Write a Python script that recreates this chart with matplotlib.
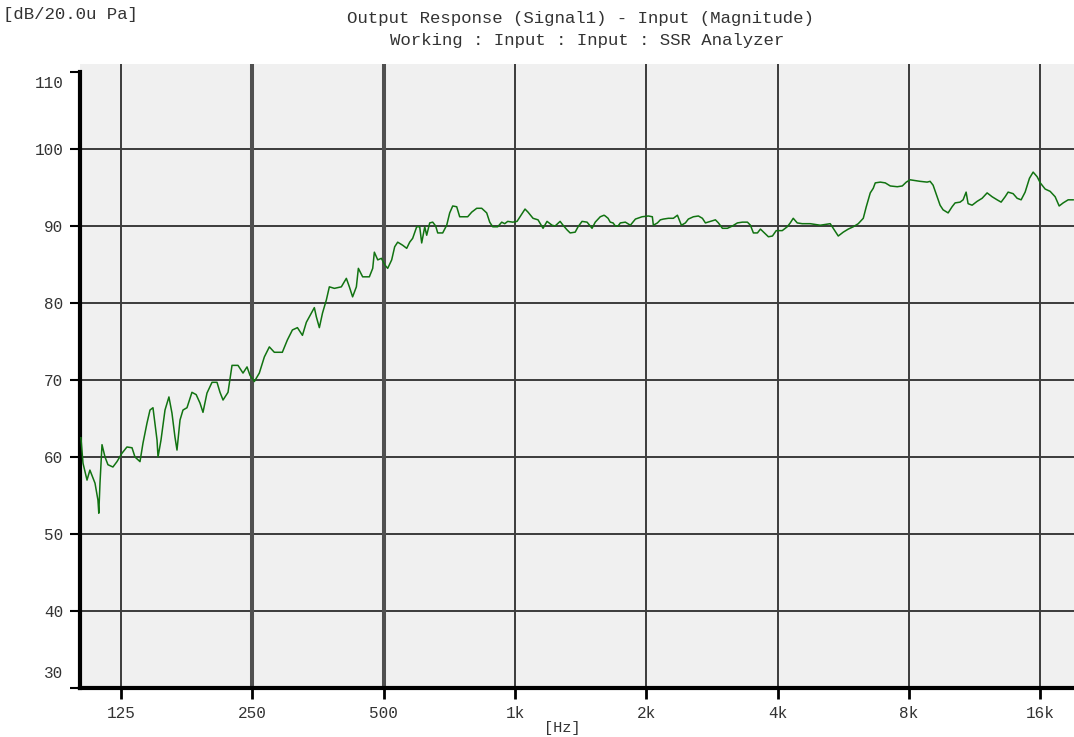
import matplotlib
matplotlib.use("Agg")
import matplotlib.pyplot as plt
import matplotlib.transforms as mtransforms

# ---------------- data ----------------
freq_hz = [101.2, 102.3, 104.5, 106.1, 107.8, 109.0, 110.7, 111.2, 111.9, 113.1,
           114.9, 116.7, 119.8, 122.4, 125.7, 129.0, 132.5, 134.6, 138.2, 140.4,
           143.4, 145.7, 148.0, 151.2, 152.0, 154.4, 157.7, 161.0, 163.6, 166.2,
           168.0, 170.7, 173.4, 177.1, 181.8, 185.9, 189.7, 192.7, 196.8, 202.1,
           207.5, 210.8, 214.2, 219.9, 224.6, 231.8, 238.0, 243.1, 247.0, 252.7,
           259.4, 266.4, 273.5, 280.8, 292.9, 300.8, 308.9, 317.2, 325.7, 332.5,
           341.4, 346.8, 350.5, 356.1, 362.1, 369.5, 375.4, 385.5, 399.9, 410.6,
           417.2, 424.4, 432.9, 437.5, 447.5, 463.6, 471.9, 476.0, 484.6, 494.0,
           503.8, 510.7, 521.6, 529.9, 538.4, 552.8, 564.6, 573.6, 582.7, 595.2,
           604.7, 611.1, 621.0, 627.4, 637.5, 647.7, 657.9, 665.0, 682.7, 697.3,
           708.4, 719.8, 735.1, 746.8, 779.0, 795.7, 817.0, 838.8, 861.2, 875.0,
           888.9, 912.7, 932.2, 947.1, 962.2, 988.0, 1010.6, 1026.7, 1054.2, 1071.0,
           1099.7, 1129.1, 1159.3, 1184.0, 1215.7, 1235.4, 1268.6, 1288.4, 1315.8, 1337.6,
           1373.5, 1394.6, 1424.3, 1462.4, 1501.6, 1527.0, 1568.0, 1599.7, 1610.0, 1633.9,
           1653.0, 1677.6, 1697.7, 1722.3, 1743.3, 1790.0, 1838.0, 1887.5, 1955.0, 2021,
           2064, 2075, 2120, 2153, 2188, 2246, 2306, 2356, 2406, 2457,
           2496, 2563, 2632, 2688, 2731, 2804, 2879, 2925, 2987, 3067,
           3149, 3233, 3320, 3409, 3463, 3518, 3594, 3651, 3729, 3808,
           3890, 3968, 4096, 4206, 4273, 4341, 4434, 4552, 4749, 5006,
           5277, 5390, 5505, 5652, 5804, 5959, 6118, 6282, 6382, 6518,
           6622, 6692, 6871, 7055, 7244, 7517, 7718, 7883, 8042, 8478,
           8798, 8938, 9081, 9274, 9422, 9573, 9830, 10038, 10199, 10471,
           10639, 10809, 10923, 11157, 11455, 11762, 12076, 12399, 12730, 13002,
           13280, 13491, 13853, 14148, 14450, 14758, 15100, 15395, 15723, 15987,
           16402, 16841, 17291, 17662, 18039, 18520, 19015]

level_db = [62.5, 59.2, 57.0, 58.3, 57.3, 56.6, 54.4, 52.7, 56.6, 61.6,
            60.0, 59.0, 58.7, 59.4, 60.5, 61.3, 61.2, 60.0, 59.4, 61.8,
            64.4, 66.1, 66.4, 62.2, 60.0, 62.2, 66.1, 67.8, 65.7, 62.6,
            60.9, 64.8, 66.1, 66.4, 68.4, 68.1, 67.0, 65.8, 68.3, 69.7,
            69.7, 68.4, 67.4, 68.4, 71.9, 71.9, 70.9, 71.7, 70.6, 69.8,
            70.9, 73.0, 74.3, 73.6, 73.6, 75.2, 76.5, 76.8, 75.8, 77.5,
            78.7, 79.4, 78.2, 76.8, 78.7, 80.4, 82.1, 81.9, 82.1, 83.2,
            82.1, 80.8, 82.1, 84.5, 83.4, 83.4, 84.5, 86.6, 85.6, 85.8,
            84.9, 84.5, 85.6, 87.3, 87.9, 87.5, 87.1, 87.9, 88.4, 89.9,
            89.9, 87.8, 89.9, 88.8, 90.4, 90.5, 90.0, 89.1, 89.1, 90.1,
            91.7, 92.6, 92.5, 91.2, 91.2, 91.8, 92.3, 92.3, 91.7, 90.5,
            89.9, 89.9, 90.5, 90.3, 90.6, 90.5, 90.6, 91.2, 92.2, 91.8,
            91.0, 90.8, 89.7, 90.6, 90.1, 90.0, 90.6, 90.1, 89.5, 89.1,
            89.2, 89.9, 90.6, 90.5, 89.7, 90.5, 91.2, 91.4, 91.3, 91.0,
            90.5, 90.4, 90.0, 90.0, 90.4, 90.5, 90.1, 90.9, 91.2, 91.3,
            91.2, 90.1, 90.4, 90.8, 90.9, 91.0, 91.0, 91.4, 90.1, 90.4,
            90.9, 91.2, 91.3, 91.0, 90.4, 90.6, 90.8, 90.4, 89.7, 89.7,
            90.0, 90.4, 90.5, 90.5, 90.1, 89.1, 89.1, 89.6, 89.1, 88.6,
            88.7, 89.4, 89.4, 89.9, 90.4, 91.0, 90.4, 90.3, 90.3, 90.1,
            90.3, 89.5, 88.7, 89.2, 89.6, 89.9, 90.3, 91.0, 92.5, 94.3,
            94.9, 95.6, 95.7, 95.6, 95.2, 95.1, 95.2, 95.7, 96.0, 95.8,
            95.7, 95.8, 95.3, 93.8, 92.7, 92.1, 91.7, 92.5, 93.0, 93.1,
            93.4, 94.4, 92.9, 92.7, 93.2, 93.6, 94.3, 93.8, 93.4, 93.1,
            93.8, 94.4, 94.2, 93.6, 93.4, 94.4, 96.2, 97.0, 96.4, 95.6,
            94.8, 94.5, 93.8, 92.6, 93.0, 93.4, 93.4]

x_ticks = [125, 250, 500, 1000, 2000, 4000, 8000, 16000]
x_tick_labels = ["125", "250", "500", "1k", "2k", "4k", "8k", "16k"]
thick_grid_x = [250, 500]
y_ticks = [30, 40, 50, 60, 70, 80, 90, 100, 110]
y_grid = [40, 50, 60, 70, 80, 90, 100]

title_line1 = "Output Response (Signal1) - Input (Magnitude)"
title_line2 = "Working : Input : Input : SSR Analyzer"
y_unit = "[dB/20.0u Pa]"
x_unit = "[Hz]"

# ---------------- figure ----------------
W, H = 1074, 737
fig = plt.figure(figsize=(W / 100, H / 100), dpi=100)
fig.patch.set_facecolor("white")

ax_left, ax_bottom = 80 / W, (H - 688) / H
ax_w, ax_h = (W - 80) / W, (688 - 64.3) / H
ax = fig.add_axes([ax_left, ax_bottom, ax_w, ax_h])
ax.set_facecolor("#f0f0f0")
ax.set_xscale("log")
ax.set_xlim(100.7, 19100)
ax.set_ylim(30, 111)

# grid
for yv in y_grid:
    ax.axhline(yv, color="#3c3c3c", lw=1.4, zorder=1)
for xv in x_ticks:
    if xv in thick_grid_x:
        ax.axvline(xv, color="#505050", lw=2.9, zorder=1)
    else:
        ax.axvline(xv, color="#3c3c3c", lw=1.4, zorder=1)

# data curve
ax.plot(freq_hz, level_db, color="#117311", lw=1.1, zorder=3)

# spines
for s in ["top", "right"]:
    ax.spines[s].set_visible(False)
ax.spines["left"].set_linewidth(3.0)
ax.spines["bottom"].set_linewidth(3.0)
ax.spines["left"].set_color("black")
ax.spines["bottom"].set_color("black")
ax.spines["left"].set_bounds(30, 110)

label_font = dict(family="Liberation Mono", size=11.5)

ax.set_xticks(x_ticks)
ax.set_xticklabels(x_tick_labels, fontdict=label_font, color="#333333")
ax.xaxis.set_minor_locator(matplotlib.ticker.NullLocator())
ax.set_yticks(y_ticks)
ax.set_yticklabels([str(v) for v in y_ticks], fontdict=label_font, color="#333333")
ax.tick_params(axis="x", direction="out", length=8, width=2, pad=5, colors="black",
               labelcolor="#333333")
ax.tick_params(axis="y", direction="out", length=7, width=1.5, pad=5, colors="black",
               labelcolor="#333333")

# extreme y labels shifted inward as in the reference
for lbl in ax.get_yticklabels():
    txt = lbl.get_text()
    if txt == "110":
        lbl.set_transform(lbl.get_transform() +
                          mtransforms.ScaledTranslation(0, -10 / 100, fig.dpi_scale_trans))
    elif txt == "30":
        lbl.set_transform(lbl.get_transform() +
                          mtransforms.ScaledTranslation(0, 16 / 100, fig.dpi_scale_trans))

# titles and units
title_font = dict(family="Liberation Mono", size=12.5, color="#333333")
fig.text(580 / W, 1 - 18 / H, title_line1, ha="center", va="center", **title_font)
fig.text(587 / W, 1 - 40 / H, title_line2, ha="center", va="center", **title_font)
fig.text(3 / W, 1 - 15 / H, y_unit, ha="left", va="center", **title_font)
fig.text(562 / W, 2 / H, x_unit, ha="center", va="bottom", family="Liberation Mono",
         size=11, color="#333333")

fig.savefig("out.png", dpi=100, facecolor="white")
